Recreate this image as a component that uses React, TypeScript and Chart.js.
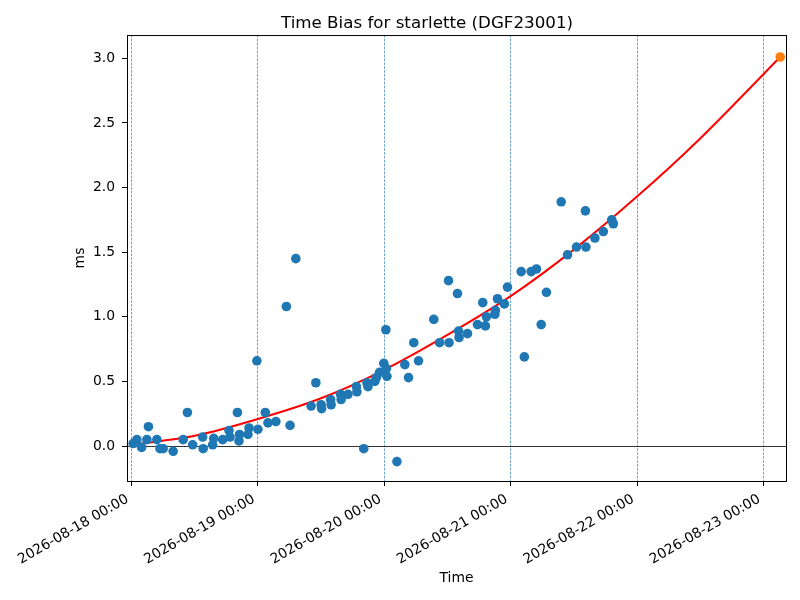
import React, { useRef, useEffect } from 'react';
import { Chart } from 'chart.js/auto';

// hours since 2026-08-18 00:00 (UTC)
const startDate = Date.UTC(2026, 7, 18, 0, 0);
const xTicks = [0, 24, 48, 72, 96, 120];
const yTicks = [0, 0.5, 1.0, 1.5, 2.0, 2.5, 3.0];

const obsHours = [
    0.3, 1.0, 1.9, 2.9, 3.2, 4.8, 5.4, 6.0, 7.9, 9.8, 10.6, 11.6, 13.5, 13.6, 15.4, 15.6,
    17.3, 18.5, 18.7, 20.1, 20.4, 20.5, 22.3, 22.1, 23.8, 24.0, 25.4, 25.9, 27.4, 29.4,
    30.1, 31.2, 34.1, 35.0, 36.0, 36.1, 37.8, 37.9, 39.7, 39.8, 41.1, 42.7, 42.8, 44.1,
    44.7, 44.9, 46.2, 46.5, 47.1, 47.9, 48.3, 48.4, 48.5, 50.4, 51.9, 52.6, 53.6, 54.5,
    57.4, 58.5, 60.2, 60.3, 61.9, 62.1, 62.2, 63.8, 65.7, 66.7, 67.2, 67.4, 69.0, 69.1,
    69.5, 70.8, 71.4, 74.0, 74.6, 75.9, 76.9, 77.8, 78.8, 81.6, 82.8, 84.5, 86.2, 86.3,
    88.0, 89.6, 91.2, 91.5,
];
const obsBias = [
    0.02, 0.05, -0.01, 0.05, 0.15, 0.05, -0.02, -0.02, -0.04, 0.05, 0.26, 0.01, 0.07, -0.02, 0.01, 0.06,
    0.05, 0.12, 0.07, 0.26, 0.04, 0.09, 0.14, 0.09, 0.66, 0.13, 0.26, 0.18, 0.19, 1.08,
    0.16, 1.45, 0.31, 0.49, 0.32, 0.29, 0.36, 0.32, 0.40, 0.36, 0.40, 0.46, 0.42, -0.02,
    0.49, 0.46, 0.50, 0.53, 0.57, 0.64, 0.90, 0.60, 0.54, -0.12, 0.63, 0.53, 0.80, 0.66,
    0.98, 0.80, 1.28, 0.80, 1.18, 0.89, 0.84, 0.87, 0.94, 1.11, 0.93, 1.00, 1.02, 1.05,
    1.14, 1.10, 1.23, 1.35, 0.69, 1.35, 1.37, 0.94, 1.19, 1.89, 1.48, 1.54, 1.82, 1.54,
    1.61, 1.66, 1.75, 1.72,
];

// fitted curve
const fitHours = [0, 12, 24, 36, 48, 60, 72, 84, 96, 108, 123.2];
const fitBias = [0.01, 0.08, 0.21, 0.37, 0.59, 0.86, 1.16, 1.52, 1.93, 2.38, 3.01];

// predicted point
const predHours = [123.2];
const predBias = [3.01];

const font = { family: 'DejaVu Sans', size: 13.9 };

function fmtTime(h: number) {
    const d = new Date(startDate + h * 3600 * 1000);
    const p = (n: number) => String(n).padStart(2, '0');
    return `${d.getUTCFullYear()}-${p(d.getUTCMonth() + 1)}-${p(d.getUTCDate())} ${p(d.getUTCHours())}:${p(d.getUTCMinutes())}`;
}

const frame = {
    id: 'frame',
    afterDraw(chart: any) {
        const { ctx, chartArea: a } = chart;
        ctx.save();
        ctx.strokeStyle = 'black';
        ctx.lineWidth = 1;
        ctx.strokeRect(a.left + 0.5, a.top + 0.5, a.right - a.left, a.bottom - a.top);
        ctx.restore();
    }
};

const App: React.FC = () => {
    const chartRef = useRef<HTMLCanvasElement>(null);
    const chartInstance = useRef<Chart | null>(null);

    useEffect(() => {
        document.body.style.margin = '0';
        if (chartInstance.current) {
            chartInstance.current.destroy();
        }
        const ctx = chartRef.current?.getContext('2d');
        if (ctx) {
            chartInstance.current = new Chart(ctx, {
                type: 'scatter',
                data: {
                    datasets: [
                        {
                            label: 'observed',
                            data: obsHours.map((h, i) => ({ x: h, y: obsBias[i] })),
                            backgroundColor: '#1f77b4',
                            borderWidth: 0,
                            pointRadius: 4.8,
                            order: 1,
                        },
                        {
                            label: 'predicted',
                            data: predHours.map((h, i) => ({ x: h, y: predBias[i] })),
                            backgroundColor: '#ff7f0e',
                            borderWidth: 0,
                            pointRadius: 4.8,
                            order: 0,
                        },
                        {
                            type: 'line',
                            label: 'fit',
                            data: fitHours.map((h, i) => ({ x: h, y: fitBias[i] })),
                            borderColor: 'red',
                            borderWidth: 2,
                            pointRadius: 0,
                            tension: 0.3,
                            fill: false,
                            order: 2,
                        } as any,
                    ]
                },
                options: {
                    responsive: false,
                    animation: false,
                    layout: { padding: { left: 68, right: 14, top: 0, bottom: 9 } },
                    plugins: {
                        legend: { display: false },
                        tooltip: { enabled: false },
                        title: {
                            display: true,
                            text: 'Time Bias for starlette (DGF23001)',
                            color: 'black',
                            font: { family: 'DejaVu Sans', size: 16.7, weight: 'normal' },
                            padding: { top: 14, bottom: 1 },
                        },
                    },
                    scales: {
                        x: {
                            type: 'linear',
                            min: -0.87,
                            max: 124.3,
                            afterBuildTicks: (scale: any) => {
                                scale.ticks = xTicks.map(v => ({ value: v }));
                            },
                            afterFit: (scale: any) => {
                                scale.height = 110;
                                scale.paddingLeft = 0;
                                scale.paddingRight = 0;
                            },
                            ticks: {
                                autoSkip: false,
                                minRotation: 30,
                                maxRotation: 30,
                                padding: 5,
                                labelOffset: -4,
                                color: 'black',
                                font,
                                callback: (v: any) => fmtTime(Number(v)),
                            },
                            grid: {
                                color: 'rgba(31,119,180,0.85)',
                                lineWidth: 0.8,
                                tickColor: 'black',
                                tickWidth: 1,
                                tickLength: 5,
                            },
                            border: { display: true, color: 'black', width: 1, dash: [2.6, 1.3] },
                            title: { display: true, text: 'Time', color: 'black', font, padding: 4 },
                        },
                        y: {
                            min: -0.27,
                            max: 3.18,
                            afterBuildTicks: (scale: any) => {
                                scale.ticks = yTicks.map(v => ({ value: v }));
                            },
                            afterFit: (scale: any) => {
                                scale.width = 59;
                                scale.paddingTop = 0;
                                scale.paddingBottom = 0;
                            },
                            ticks: {
                                padding: 7,
                                color: 'black',
                                font,
                                callback: (v: any) => Number(v).toFixed(1),
                            },
                            grid: {
                                color: (c: any) => (c.tick && c.tick.value === 0 ? 'black' : 'rgba(0,0,0,0)'),
                                lineWidth: 0.8,
                                tickColor: 'black',
                                tickWidth: 1,
                                tickLength: 5,
                            },
                            border: { display: true, color: 'black', width: 1 },
                            title: { display: true, text: 'ms', color: 'black', font, padding: 4 },
                        },
                    },
                },
                plugins: [frame],
            });
        }
        return () => {
            chartInstance.current?.destroy();
        };
    }, []);

    return (
        <div style={{ width: 800, height: 600, background: 'white' }}>
            <canvas ref={chartRef} width={800} height={600}></canvas>
        </div>
    );
};

export default App;
